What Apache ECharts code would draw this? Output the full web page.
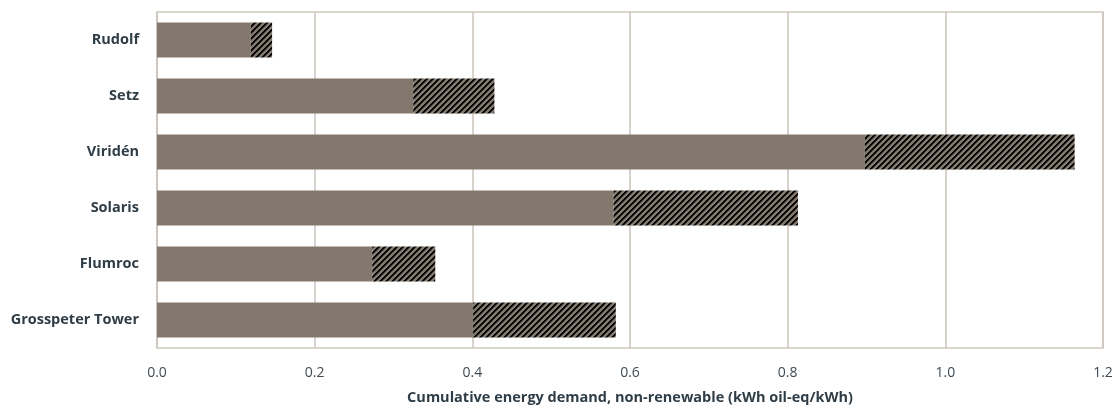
<!DOCTYPE html>
<html>
<head>
<meta charset="utf-8">
<script src="https://cdn.jsdelivr.net/npm/echarts@6/dist/echarts.min.js"></script>
<style>
html,body{margin:0;padding:0;background:#fff;}
#chart{width:1120px;height:410px;}
</style>
</head>
<body>
<div id="chart"></div>
<script>
const categories = ['Rudolf', 'Setz', 'Viridén', 'Solaris', 'Flumroc', 'Grosspeter Tower'];
const baseValues = [0.119, 0.325, 0.898, 0.579, 0.273, 0.401];
const hatchValues = [0.027, 0.103, 0.266, 0.234, 0.080, 0.181];
const xTicks = { min: 0, max: 1.2, interval: 0.2 };
const axisTitle = 'Cumulative energy demand, non-renewable (kWh oil-eq/kWh)';

const brown = '#83786e';
// hatch pattern tile
const T = 6;
const tile = document.createElement('canvas');
tile.width = T; tile.height = T;
const tctx = tile.getContext('2d');
tctx.fillStyle = brown;
tctx.fillRect(0, 0, T, T);
for (let y = 0; y < T; y++) {
  for (let x = 0; x < T; x++) {
    const m = (x + y) % T;
    if (m === 0 || m === 1) { tctx.fillStyle = '#000'; tctx.fillRect(x, y, 1, 1); }
    else if (m === 2) { tctx.fillStyle = '#3a3531'; tctx.fillRect(x, y, 1, 1); }
  }
}

const fontFam = '"Open Sans", "Noto Sans", sans-serif';
const chart = echarts.init(document.getElementById('chart'), null, { renderer: 'canvas' });
chart.setOption({
  animation: false,
  grid: { left: 157, right: 17, top: 12, bottom: 61, show: true, borderColor: '#cfc8c0', borderWidth: 1.5, containLabel: false },
  xAxis: {
    type: 'value', min: xTicks.min, max: xTicks.max, interval: xTicks.interval,
    axisLine: { show: false }, axisTick: { show: false },
    splitLine: { show: true, lineStyle: { color: '#cbc3bb', width: 1.5 } },
    axisLabel: { color: '#404a52', fontSize: 14, fontFamily: fontFam, margin: 18, formatter: v => v.toFixed(1) },
    name: axisTitle, nameLocation: 'middle', nameGap: 42,
    nameTextStyle: { color: '#2f3d47', fontSize: 14.5, fontWeight: 'bold', fontFamily: fontFam }
  },
  yAxis: {
    type: 'category', data: categories, inverse: true,
    axisLine: { show: false }, axisTick: { show: false },
    axisLabel: { color: '#2f3d47', fontSize: 14.5, fontWeight: 'bold', fontFamily: fontFam, margin: 18 }
  },
  series: [
    { type: 'bar', stack: 'total', data: baseValues, barWidth: 35, itemStyle: { color: brown } },
    { type: 'bar', stack: 'total', data: hatchValues, barWidth: 35, itemStyle: { color: { image: tile, repeat: 'repeat' } } }
  ]
});
</script>
</body>
</html>
